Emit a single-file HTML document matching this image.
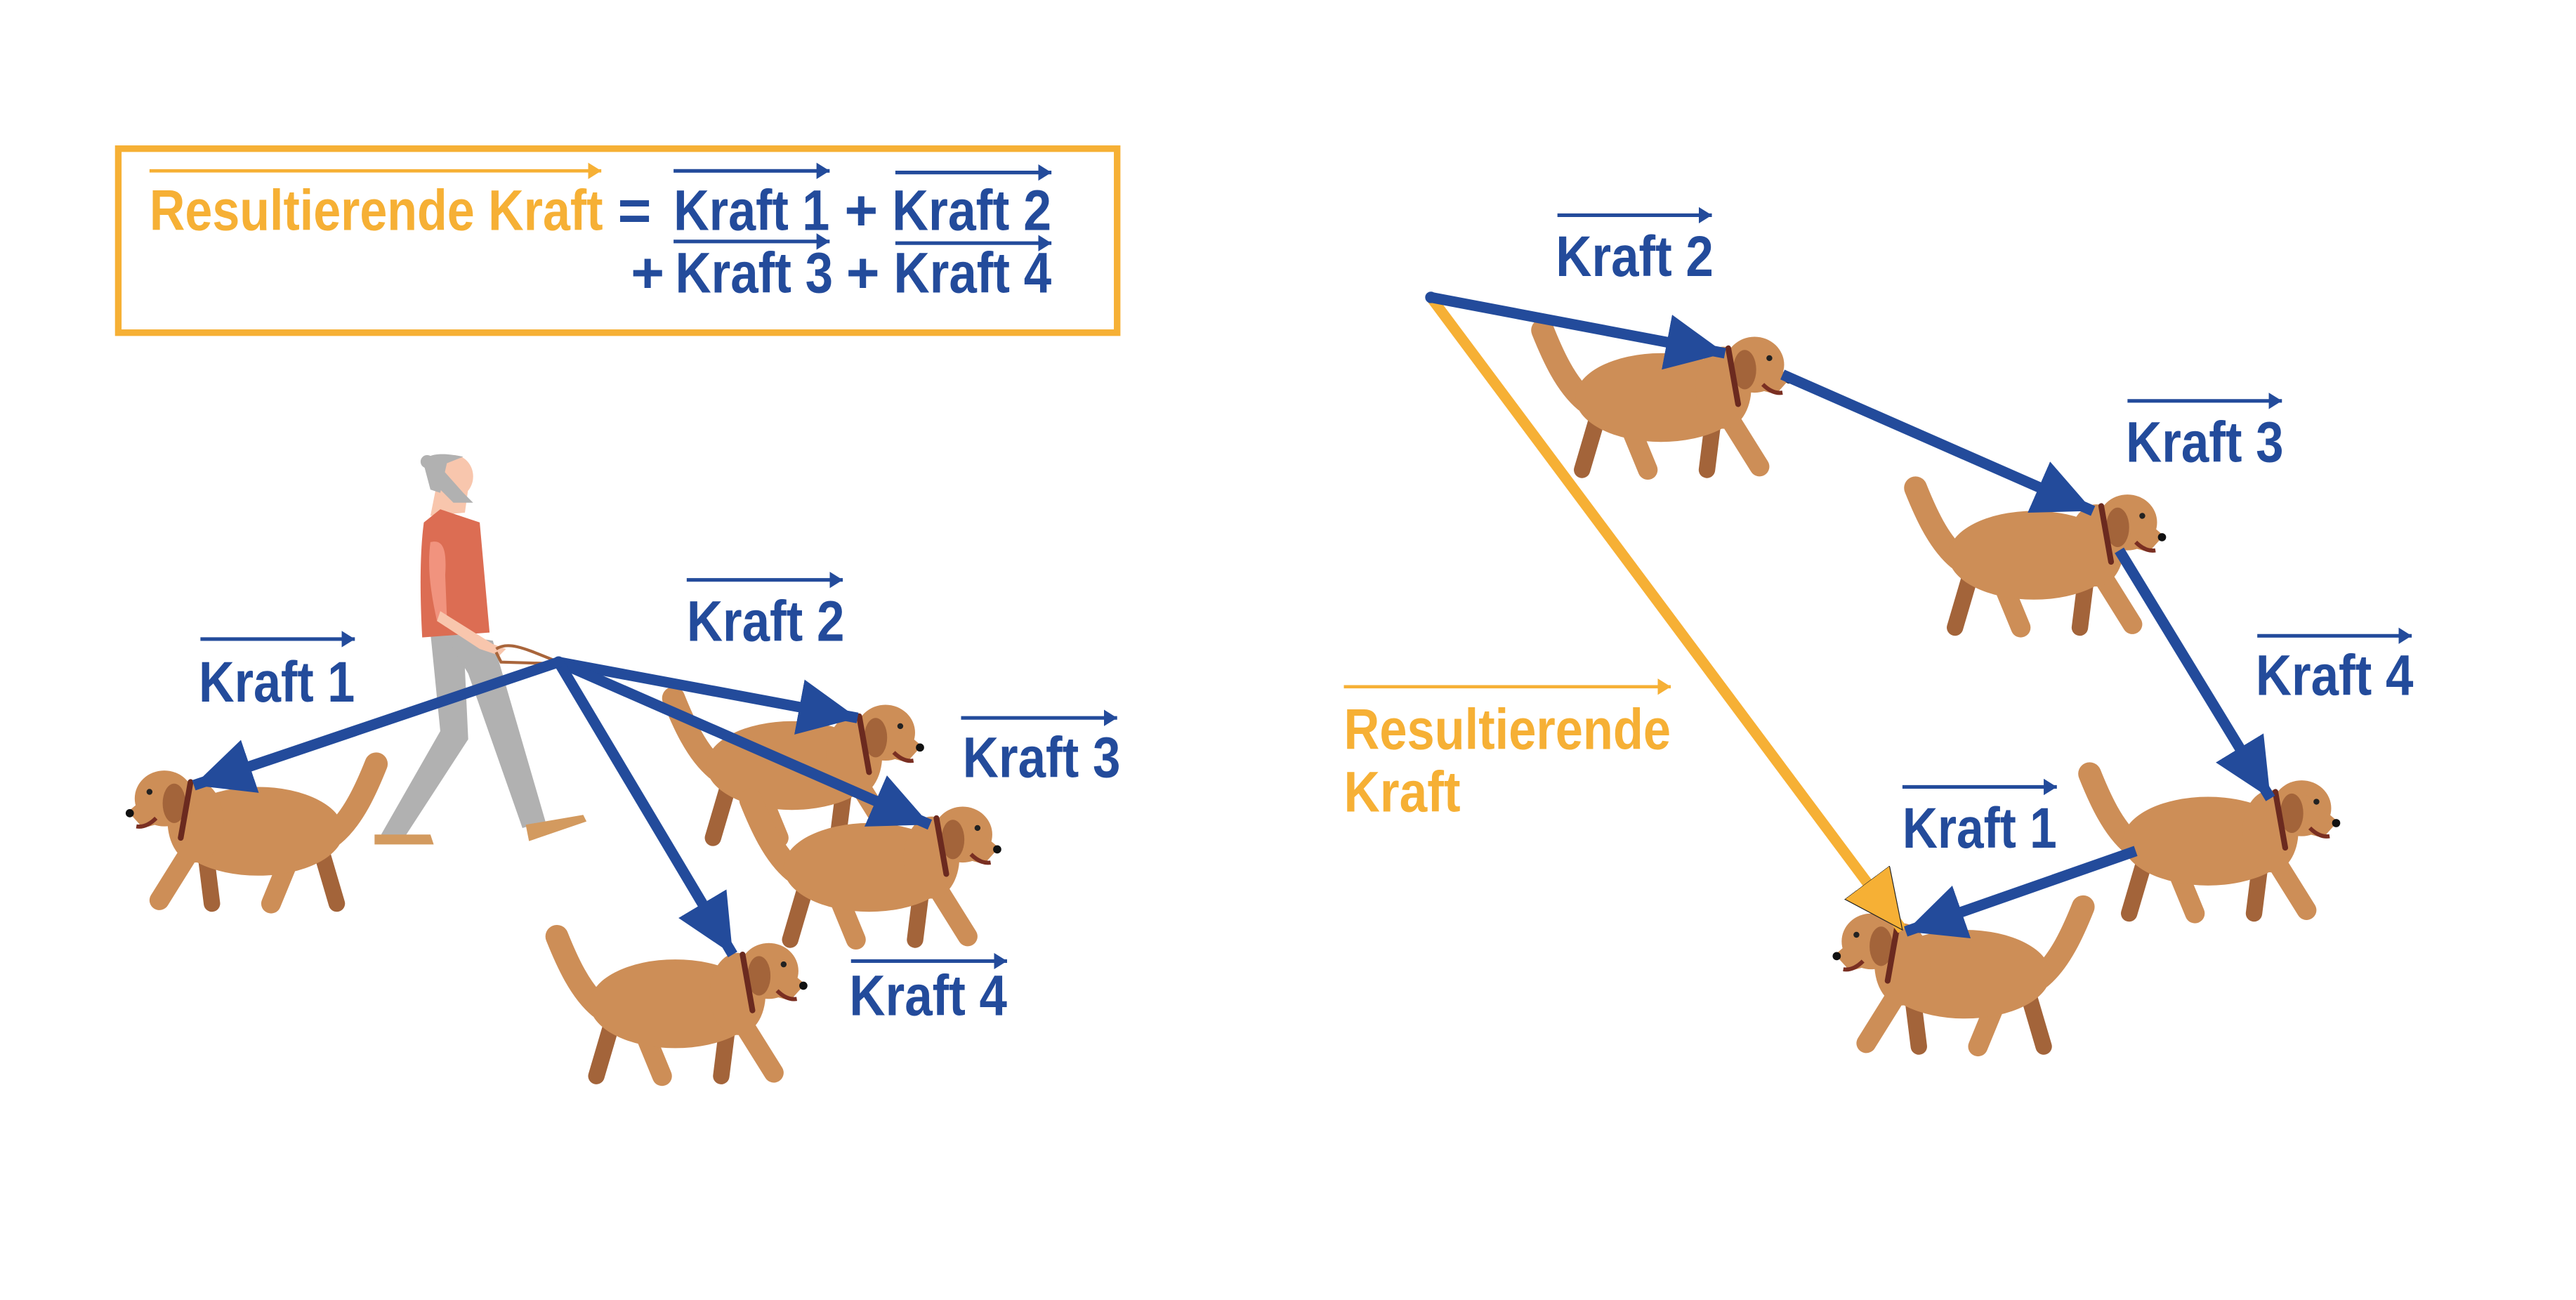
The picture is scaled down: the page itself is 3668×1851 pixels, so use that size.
<!DOCTYPE html>
<html><head><meta charset="utf-8"><style>
html,body{margin:0;padding:0;background:#fff;}
svg{display:block;}
text{font-family:"Liberation Sans Narrow","Liberation Sans",sans-serif;font-weight:bold;font-size:35px;}
</style></head><body>
<svg width="3668" height="1851" viewBox="0 0 1568 791.3" preserveAspectRatio="none" xmlns="http://www.w3.org/2000/svg">
<defs>
<marker id="hb" markerUnits="userSpaceOnUse" markerWidth="38" markerHeight="36" refX="36" refY="17" orient="auto"><path d="M0,0 L36,17 L0,34 z" fill="#234b9b"/></marker>
<marker id="hy" markerUnits="userSpaceOnUse" markerWidth="38" markerHeight="36" refX="36" refY="17" orient="auto"><path d="M0,0 L36,17 L0,34 z" fill="#f6b035" stroke="#222" stroke-width="0.5"/></marker>
<marker id="sb" markerUnits="userSpaceOnUse" markerWidth="10" markerHeight="10" refX="8" refY="5" orient="auto"><path d="M0,0 L8,5 L0,10 z" fill="#234b9b"/></marker>
<marker id="sy" markerUnits="userSpaceOnUse" markerWidth="10" markerHeight="10" refX="8" refY="5" orient="auto"><path d="M0,0 L8,5 L0,10 z" fill="#f6b035"/></marker>
<g id="dog">
  <path d="M34,50 C22,40 14,22 8,7" stroke="#cd8e57" stroke-width="14" stroke-linecap="round" fill="none"/>
  <path d="M42,58 L32,92" stroke="#a3643a" stroke-width="10" stroke-linecap="round"/>
  <path d="M112,60 L108,92" stroke="#a3643a" stroke-width="10" stroke-linecap="round"/>
  <path d="M58,58 L72,92" stroke="#cd8e57" stroke-width="12" stroke-linecap="round"/>
  <path d="M120,58 L140,90" stroke="#cd8e57" stroke-width="12" stroke-linecap="round"/>
  <ellipse cx="80" cy="48" rx="52" ry="27" fill="#cd8e57"/>
  <ellipse cx="118" cy="42" rx="17" ry="25" fill="#cd8e57"/>
  <ellipse cx="137" cy="28" rx="18" ry="17" fill="#cd8e57"/>
  <path d="M140,20 L159,36 L150,46 L135,42 z" fill="#cd8e57"/>
  <ellipse cx="131" cy="31" rx="7" ry="12" fill="#a3643a"/>
  <path d="M121,18 L127,52" stroke="#6b2a1f" stroke-width="3.5" stroke-linecap="round"/>
  <circle cx="146" cy="24" r="1.8" fill="#222"/>
  <circle cx="158" cy="37" r="2.5" fill="#111"/>
  <path d="M142,40 Q148,46 154,45" stroke="#7a2f22" stroke-width="2.5" fill="none"/>
</g>
</defs>
<rect width="1568" height="791.3" fill="#fff"/>

<rect x="72" y="90.5" width="608" height="112" fill="none" stroke="#f6b035" stroke-width="4"/>
<line x1="91" y1="104" x2="366" y2="104" stroke="#f6b035" stroke-width="2" marker-end="url(#sy)"/>
<line x1="410" y1="104" x2="505" y2="104" stroke="#234b9b" stroke-width="2.2" marker-end="url(#sb)"/>
<line x1="545" y1="105" x2="640" y2="105" stroke="#234b9b" stroke-width="2.2" marker-end="url(#sb)"/>
<line x1="410" y1="147" x2="505" y2="147" stroke="#234b9b" stroke-width="2.2" marker-end="url(#sb)"/>
<line x1="545" y1="148" x2="640" y2="148" stroke="#234b9b" stroke-width="2.2" marker-end="url(#sb)"/>
<text x="91" y="140" fill="#f6b035" textLength="276" lengthAdjust="spacingAndGlyphs">Resultierende Kraft</text>
<text x="376" y="140" fill="#234b9b">=</text>
<text x="410" y="140" fill="#234b9b" textLength="95" lengthAdjust="spacingAndGlyphs">Kraft 1</text>
<text x="514" y="140" fill="#234b9b">+</text>
<text x="543" y="140" fill="#234b9b" textLength="97" lengthAdjust="spacingAndGlyphs">Kraft 2</text>
<text x="384" y="178" fill="#234b9b">+</text>
<text x="411" y="178" fill="#234b9b" textLength="96" lengthAdjust="spacingAndGlyphs">Kraft 3</text>
<text x="515" y="178" fill="#234b9b">+</text>
<text x="544" y="178" fill="#234b9b" textLength="96" lengthAdjust="spacingAndGlyphs">Kraft 4</text>

<g>
  <path d="M262,385 L268,445 L232,508 L246,510 L285,450 L282,386 z" fill="#b1b1b1"/>
  <path d="M270,385 L300,390 L332,500 L318,504 L285,410 z" fill="#b1b1b1"/>
  <path d="M228,508 L262,508 L264,514 L228,514 z" fill="#d39a5f"/>
  <path d="M320,502 L355,496 L357,500 L322,512 z" fill="#d39a5f"/>
  <path d="M262,314 L283,312 L286,290 L266,294 z" fill="#f8c6ad"/>
  <path d="M258,318 C255,340 256,370 257,388 L298,385 L292,318 L268,310 z" fill="#dc6d53"/>
  <path d="M262,330 C270,328 272,335 271,350 L272,375 L266,378 C262,360 260,345 262,330 z" fill="#f1937e"/>
  <path d="M268,372 L300,392 L308,395 L304,399 L292,395 L266,378 z" fill="#f8c6ad"/>
  <path d="M302,395 C310,390 320,395 340,403 M302,397 L305,403 L338,404" stroke="#a9653b" stroke-width="1.8" fill="none"/>
  <ellipse cx="276" cy="290" rx="12" ry="13" fill="#f8c6ad"/>
  <path d="M266,282 L282,300 L288,306 L276,306 L266,296 z" fill="#b1b1b1"/>
  <path d="M258,283 C258,276 268,275 282,278 L272,282 L268,300 L262,298 z" fill="#b1b1b1"/>
  <circle cx="260" cy="281" r="4" fill="#b1b1b1"/>
</g>

<use href="#dog" transform="translate(237,458) scale(-1,1)"/>
<use href="#dog" transform="translate(402,418)"/>
<use href="#dog" transform="translate(449,480)"/>
<use href="#dog" transform="translate(331,563)"/>

<g stroke="#234b9b" stroke-width="6.5" fill="none">
  <line x1="340" y1="403" x2="118" y2="478" marker-end="url(#hb)"/>
  <line x1="340" y1="403" x2="522" y2="437" marker-end="url(#hb)"/>
  <line x1="340" y1="403" x2="566" y2="502" marker-end="url(#hb)"/>
  <line x1="340" y1="403" x2="446" y2="581" marker-end="url(#hb)"/>
</g>
<circle cx="340" cy="403" r="3.5" fill="#234b9b"/>

<g stroke="#234b9b" stroke-width="2.2">
  <line x1="122" y1="389" x2="216" y2="389" marker-end="url(#sb)"/>
  <line x1="418" y1="353" x2="513" y2="353" marker-end="url(#sb)"/>
  <line x1="585" y1="437" x2="680" y2="437" marker-end="url(#sb)"/>
  <line x1="518" y1="585" x2="613" y2="585" marker-end="url(#sb)"/>
</g>
<text x="121" y="427" fill="#234b9b" textLength="95" lengthAdjust="spacingAndGlyphs">Kraft 1</text>
<text x="418" y="390" fill="#234b9b" textLength="96" lengthAdjust="spacingAndGlyphs">Kraft 2</text>
<text x="586" y="473" fill="#234b9b" textLength="96" lengthAdjust="spacingAndGlyphs">Kraft 3</text>
<text x="517" y="618" fill="#234b9b" textLength="96" lengthAdjust="spacingAndGlyphs">Kraft 4</text>

<use href="#dog" transform="translate(931,194)"/>
<use href="#dog" transform="translate(1158,290)"/>
<use href="#dog" transform="translate(1264,464)"/>
<use href="#dog" transform="translate(1276,545) scale(-1,1)"/>

<line x1="871" y1="181" x2="1158" y2="566" stroke="#f6b035" stroke-width="6.5" marker-end="url(#hy)"/>
<g stroke="#234b9b" stroke-width="6.5" fill="none">
  <line x1="871" y1="181" x2="1050" y2="215" marker-end="url(#hb)"/>
  <line x1="1085" y1="228" x2="1274" y2="311" marker-end="url(#hb)"/>
  <line x1="1290" y1="335" x2="1382" y2="486" marker-end="url(#hb)"/>
  <line x1="1300" y1="518" x2="1160" y2="567" marker-end="url(#hb)"/>
</g>
<circle cx="871" cy="181" r="3.5" fill="#234b9b"/>

<g stroke="#234b9b" stroke-width="2.2">
  <line x1="948" y1="131" x2="1042" y2="131" marker-end="url(#sb)"/>
  <line x1="1295" y1="244" x2="1389" y2="244" marker-end="url(#sb)"/>
  <line x1="1374" y1="387" x2="1468" y2="387" marker-end="url(#sb)"/>
  <line x1="1158" y1="479" x2="1252" y2="479" marker-end="url(#sb)"/>
</g>
<line x1="818" y1="418" x2="1017" y2="418" stroke="#f6b035" stroke-width="2" marker-end="url(#sy)"/>
<text x="947" y="168" fill="#234b9b" textLength="96" lengthAdjust="spacingAndGlyphs">Kraft 2</text>
<text x="1294" y="281" fill="#234b9b" textLength="96" lengthAdjust="spacingAndGlyphs">Kraft 3</text>
<text x="1373" y="423" fill="#234b9b" textLength="96" lengthAdjust="spacingAndGlyphs">Kraft 4</text>
<text x="1158" y="516" fill="#234b9b" textLength="94" lengthAdjust="spacingAndGlyphs">Kraft 1</text>
<text x="818" y="456" fill="#f6b035" textLength="199" lengthAdjust="spacingAndGlyphs">Resultierende</text>
<text x="818" y="494" fill="#f6b035" textLength="71" lengthAdjust="spacingAndGlyphs">Kraft</text>
</svg>
</body></html>
